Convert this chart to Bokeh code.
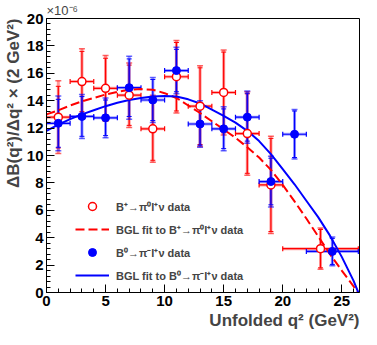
import math
from bokeh.plotting import figure
from bokeh.models import (Range1d, SingleIntervalTicker, Legend, LegendItem,
                          ColumnDataSource, Title)
from bokeh.embed import file_html
from bokeh.resources import INLINE

# ---------------- data ----------------
red_x = [1, 3, 5, 7, 9, 11, 13, 15, 17, 19, 23.2]
red_xerr = [1, 1, 1, 1, 1, 1, 1, 1, 1, 1, 3.2]
red_y = [12.8, 15.4, 14.9, 14.4, 11.95, 15.75, 13.6, 14.6, 11.6, 7.85, 3.2]
red_tot = [2.65, 2.4, 2.4, 2.35, 2.45, 2.65, 2.95, 3.1, 3.05, 3.55, 1.5]
red_stat = [2.25, 2.2, 2.2, 2.2, 2.3, 2.5, 2.8, 2.95, 2.9, 3.4, 1.4]

blue_x = [1, 3, 5, 7, 9, 11, 13, 15, 17, 19, 21, 24.2]
blue_xerr = [1, 1, 1, 1, 1, 1, 1, 1, 1, 1, 1, 2.2]
blue_y = [12.35, 12.85, 12.75, 14.95, 14.05, 16.2, 12.3, 11.95, 12.8, 8.1, 11.55, 3.0]
blue_tot = [2.0, 1.6, 1.45, 2.3, 1.65, 1.7, 1.7, 1.6, 1.9, 1.85, 1.8, 1.05]
blue_stat = [1.75, 1.45, 1.3, 2.1, 1.5, 1.55, 1.55, 1.45, 1.75, 1.7, 1.7, 0.95]

fit_x = [0, 1, 2, 3, 4, 5, 6, 7, 8, 9, 10, 11, 12, 13, 14, 15, 16, 17, 18, 19,
         20, 21, 22, 23, 24, 25, 26, 26.4]
red_fit = [13.0, 13.3, 13.65, 13.95, 14.2, 14.45, 14.65, 14.8, 14.85, 14.8, 14.55,
           14.2, 13.65, 13.1, 12.5, 11.9, 11.3, 10.6, 9.85, 8.95, 7.85, 6.65, 5.4,
           4.1, 2.8, 1.6, 0.45, 0.0]
blue_fit = [11.8, 12.25, 12.65, 13.0, 13.3, 13.6, 13.85, 14.05, 14.2, 14.3, 14.35,
            14.3, 14.1, 13.8, 13.35, 12.9, 12.4, 11.8, 11.05, 10.1, 9.0, 7.9, 6.7,
            5.5, 4.15, 2.6, 0.85, 0.0]

x_ticks_interval = 5
y_ticks_interval = 2

RED = "#ff0000"
BLUE = "#0000ff"
FONT = "Liberation Sans"

p = figure(width=361, height=329, output_backend="svg", toolbar_location=None,
           x_range=Range1d(0, 26.5), y_range=Range1d(0, 20),
           min_border_left=44, min_border_right=2, min_border_top=15,
           min_border_bottom=4)
p.xgrid.visible = False
p.ygrid.visible = False
p.outline_line_color = "black"
p.outline_line_width = 1
p.background_fill_color = "white"
p.border_fill_color = "white"

p.xaxis.ticker = SingleIntervalTicker(interval=x_ticks_interval, num_minor_ticks=5)
p.yaxis.ticker = SingleIntervalTicker(interval=y_ticks_interval, num_minor_ticks=5)
for ax in (p.xaxis, p.yaxis):
    ax.major_tick_in = 8
    ax.major_tick_out = 0
    ax.minor_tick_in = 4
    ax.minor_tick_out = 0
    ax.axis_line_color = "black"
    ax.major_tick_line_color = "black"
    ax.minor_tick_line_color = "black"
    ax.major_label_text_font = FONT
    ax.major_label_text_font_style = "bold"
    ax.major_label_text_font_size = "15px"
    ax.major_label_text_color = "black"
p.yaxis.major_label_standoff = 3
p.xaxis.major_label_standoff = 3


def draw_series(xs, xerr, ys, tot, stat, color):
    src = ColumnDataSource(dict(
        x=xs, y=ys,
        xl=[a - e for a, e in zip(xs, xerr)], xh=[a + e for a, e in zip(xs, xerr)],
        yt_lo=[a - e for a, e in zip(ys, tot)], yt_hi=[a + e for a, e in zip(ys, tot)],
        ys_lo=[a - e for a, e in zip(ys, stat)], ys_hi=[a + e for a, e in zip(ys, stat)],
    ))
    # total (translucent, thick)
    p.segment(x0="x", y0="yt_lo", x1="x", y1="yt_hi", source=src,
              line_color=color, line_width=3, line_alpha=0.4)
    p.segment(x0="xl", y0="y", x1="xh", y1="y", source=src,
              line_color=color, line_width=3, line_alpha=0.35)
    for col in ("yt_lo", "yt_hi"):
        p.scatter(x="x", y=col, source=src, marker="dash", size=6,
                  line_color=color, line_width=1.5, line_alpha=0.6)
    # statistical (solid, thin)
    p.segment(x0="x", y0="ys_lo", x1="x", y1="ys_hi", source=src,
              line_color=color, line_width=1.2)
    p.segment(x0="xl", y0="y", x1="xh", y1="y", source=src,
              line_color=color, line_width=1.2)
    for col in ("ys_lo", "ys_hi"):
        p.scatter(x="x", y=col, source=src, marker="dash", size=5,
                  line_color=color, line_width=1)
    for col in ("xl", "xh"):
        p.scatter(x=col, y="y", source=src, marker="dash", size=5, angle=math.pi / 2,
                  line_color=color, line_width=1.2)
    return src


rsrc = draw_series(red_x, red_xerr, red_y, red_tot, red_stat, RED)
bsrc = draw_series(blue_x, blue_xerr, blue_y, blue_tot, blue_stat, BLUE)

red_line = p.line(fit_x, red_fit, line_color=RED, line_width=2, line_dash="9 4")
blue_line = p.line(fit_x, blue_fit, line_color=BLUE, line_width=2)

red_pts = p.scatter(x="x", y="y", source=rsrc, marker="circle", size=8,
                    fill_color="white", line_color=RED, line_width=1.5)
blue_pts = p.scatter(x="x", y="y", source=bsrc, marker="circle", size=8,
                     fill_color=BLUE, line_color=BLUE, line_width=1)

legend = Legend(items=[
    LegendItem(label="B⁺→π⁰l⁺ν data", renderers=[red_pts]),
    LegendItem(label="BGL fit to B⁺→π⁰l⁺ν data", renderers=[red_line]),
    LegendItem(label="B⁰→π⁻l⁺ν data", renderers=[blue_pts]),
    LegendItem(label="BGL fit to B⁰→π⁻l⁺ν data", renderers=[blue_line]),
], location=(29, 7), padding=0, margin=0, spacing=3,
    glyph_width=34, glyph_height=20, label_height=20, label_standoff=7,
    label_text_font=FONT, label_text_font_style="bold", label_text_font_size="11px",
    background_fill_alpha=0, border_line_alpha=0)
p.add_layout(legend)

p.add_layout(Title(text="×10⁻⁶", align="left", text_font=FONT, text_font_style="normal",
                   text_font_size="13px", standoff=1, offset=0), "above")
p.add_layout(Title(text="ΔB(q²)/Δq² × (2 GeV²)", align="right", text_font=FONT,
                   text_font_style="bold", text_font_size="17px", standoff=2, offset=0),
             "left")
p.add_layout(Title(text="Unfolded q² (GeV²)", align="right", text_font=FONT,
                   text_font_style="bold", text_font_size="17px", standoff=0, offset=0),
             "below")

open("out.html", "w").write(file_html(p, INLINE))
